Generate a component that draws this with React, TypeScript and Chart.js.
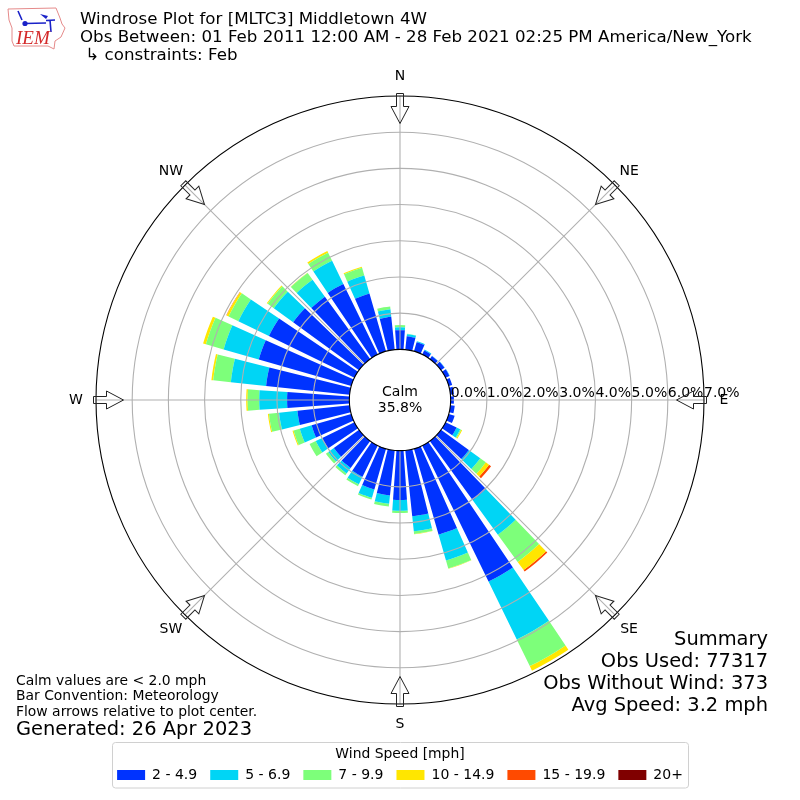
import React, { useEffect, useRef } from "react";
import { Chart, registerables, PolarAreaController } from "chart.js";

const FONT = "'DejaVu Sans'";
const directions = [0,10,20,30,40,50,60,70,80,90,100,110,120,130,140,150,160,170,180,190,200,210,220,230,240,250,260,270,280,290,300,310,320,330,340,350];

// Percent of observations per speed bin, per direction (clockwise from N)
const speed2to5 = [0.53,0.37,0.26,0.12,0.10,0.12,0.12,0.10,0.10,0.09,0.12,0.17,0.34,0.95,2.02,4.18,2.47,1.83,1.36,1.25,1.17,0.96,0.92,0.86,0.99,1.14,1.45,1.72,2.32,2.66,2.63,2.25,2.13,2.17,1.66,0.91];
const speed5to7 = [0.08,0.06,0.03,0.03,0.01,0.01,0.01,0,0,0,0,0,0.11,0.39,1.18,1.78,0.74,0.42,0.30,0.23,0.24,0.23,0.19,0.19,0.20,0.34,0.51,0.77,0.98,1.01,0.94,0.66,0.58,0.71,0.52,0.21];
const speed7to10 = [0.06,0.01,0,0,0,0,0,0,0,0,0,0,0.03,0.19,0.93,0.82,0.23,0.07,0.06,0.08,0.05,0.06,0.06,0.08,0.19,0.18,0.28,0.32,0.49,0.51,0.30,0.21,0.23,0.25,0.22,0.08];
const speed10to15 = [0,0,0,0,0,0,0,0,0,0,0,0,0.03,0.11,0.28,0.14,0.01,0.01,0,0,0,0,0,0,0,0.03,0.03,0.04,0.05,0.08,0.06,0.03,0.01,0.05,0.03,0];
const speed15to20 = [0,0,0,0,0,0,0,0,0,0,0,0,0,0.07,0.05,0,0,0,0,0,0,0,0,0,0,0,0,0,0,0,0.01,0,0,0,0,0];
const speed20plus = [0,0,0,0,0,0,0,0,0,0,0,0,0,0,0,0,0,0,0,0,0,0,0,0,0,0,0,0,0,0,0,0,0,0,0,0];

const binLabels = ["2 - 4.9", "5 - 6.9", "7 - 9.9", "10 - 14.9", "15 - 19.9", "20+"];
const binColors = ["#0033ff", "#00d5f5", "#7dff7a", "#ffe600", "#ff4a00", "#800000"];
const bins = [speed2to5, speed5to7, speed7to10, speed10to15, speed15to20, speed20plus];

const compass = ["N", "NE", "E", "SE", "S", "SW", "W", "NW"];
const rangeTicks = [0, 1, 2, 3, 4, 5, 6, 7];

const titleLines = [
  "Windrose Plot for [MLTC3] Middletown 4W",
  "Obs Between: 01 Feb 2011 12:00 AM - 28 Feb 2021 02:25 PM America/New_York",
  " \u21b3 constraints: Feb",
];
const noteLines = ["Calm values are < 2.0 mph", "Bar Convention: Meteorology", "Flow arrows relative to plot center."];
const generated = "Generated: 26 Apr 2023";
const summaryLines = ["Summary", "Obs Used: 77317", "Obs Without Wind: 373", "Avg Speed: 3.2 mph"];
const calmLines = ["Calm", "35.8%"];

const BAR_DEG = 8;
const GAP_DEG = 2;

// Polar-area bars stacked on one another, starting from the value 0 ring.
class WindBarController extends (PolarAreaController as any) {
  static id = "windbar";
  static defaults = (PolarAreaController as any).defaults;
  static overrides = (PolarAreaController as any).overrides;
  updateElement(element: any, index: number, properties: any, mode: any) {
    const self = this as any;
    if (properties) {
      const scale = self._cachedMeta.rScale;
      let base = 0;
      for (let d = 0; d < self.index; d++) base += self.chart.data.datasets[d].data[index] || 0;
      const value = self.chart.data.datasets[self.index].data[index] || 0;
      properties.innerRadius = scale.getDistanceFromCenterForValue(base);
      properties.outerRadius = scale.getDistanceFromCenterForValue(base + value);
    }
    super.updateElement(element, index, properties, mode);
  }
}

Chart.register(...registerables, WindBarController as any);

// each direction contributes one bar slot and one empty gap slot
function withGaps(values: number[]) {
  return values.flatMap((v) => [v, 0]);
}

function drawLogo(ctx: CanvasRenderingContext2D) {
  ctx.save();
  ctx.strokeStyle = "#e58a8a";
  ctx.lineWidth = 1;
  ctx.beginPath();
  const outline = [[8,9],[56,8],[60,18],[62,24],[65,28],[61,37],[55,41],[54,49],[48,46],[14,46],[12,41],[12,28],[9,20]];
  outline.forEach(([x, y], i) => (i ? ctx.lineTo(x, y) : ctx.moveTo(x, y)));
  ctx.closePath();
  ctx.stroke();
  ctx.strokeStyle = "#1a22c8";
  ctx.fillStyle = "#1a22c8";
  ctx.lineWidth = 1.6;
  ctx.beginPath(); ctx.moveTo(25, 23.5); ctx.lineTo(46, 23); ctx.moveTo(46, 20.5); ctx.lineTo(55, 20); ctx.moveTo(50, 20); ctx.lineTo(51, 32); ctx.moveTo(18, 11); ctx.lineTo(22, 20); ctx.stroke();
  ctx.beginPath(); ctx.moveTo(40, 14); ctx.lineTo(48, 16); ctx.lineTo(46, 19); ctx.closePath(); ctx.fill();
  ctx.beginPath(); ctx.arc(25, 23.5, 2.6, 0, Math.PI * 2); ctx.fill();
  ctx.fillStyle = "#d42a2a";
  ctx.font = "italic 19px 'Liberation Serif'";
  ctx.textAlign = "left";
  ctx.textBaseline = "alphabetic";
  ctx.fillText("IEM", 16, 44);
  ctx.restore();
}

function drawArrow(ctx: CanvasRenderingContext2D, cx: number, cy: number, deg: number, outer: number) {
  ctx.save();
  ctx.translate(cx, cy);
  ctx.rotate((deg * Math.PI) / 180);
  ctx.beginPath();
  const top = -outer - 2.5;
  const pts = [[-3.5, top],[3.5, top],[3.5, top + 13],[9, top + 13],[0, top + 30],[-9, top + 13],[-3.5, top + 13]];
  pts.forEach(([x, y], i) => (i ? ctx.lineTo(x, y) : ctx.moveTo(x, y)));
  ctx.closePath();
  ctx.strokeStyle = "#222";
  ctx.lineWidth = 1;
  ctx.stroke();
  ctx.restore();
}

const decorations = {
  id: "decorations",
  afterDatasetsDraw(chart: any) {
    const { ctx } = chart;
    const s = chart.scales.r;
    const zero = s.getDistanceFromCenterForValue(0);
    ctx.save();
    ctx.strokeStyle = "#b0b0b0";
    ctx.lineWidth = 1.1;
    compass.forEach((_, i) => {
      const a = (i * Math.PI) / 4;
      ctx.beginPath();
      ctx.moveTo(s.xCenter + zero * Math.sin(a), s.yCenter - zero * Math.cos(a));
      ctx.lineTo(s.xCenter + s.drawingArea * Math.sin(a), s.yCenter - s.drawingArea * Math.cos(a));
      ctx.stroke();
    });
    ctx.restore();
  },
  afterDraw(chart: any) {
    const { ctx } = chart;
    const s = chart.scales.r;
    ctx.save();
    ctx.fillStyle = "#000";
    ctx.textBaseline = "middle";

    // radial tick labels
    ctx.font = `14px ${FONT}`;
    ctx.textAlign = "left";
    rangeTicks.forEach((t) => {
      ctx.fillText(`${t.toFixed(1)}%`, s.xCenter + s.getDistanceFromCenterForValue(t), s.yCenter - 7);
    });

    // calm text
    ctx.textAlign = "center";
    calmLines.forEach((t, i) => ctx.fillText(t, s.xCenter, s.yCenter - 8 + i * 16));

    // compass
    compass.forEach((label, i) => {
      const a = (i * Math.PI) / 4;
      ctx.fillText(label, s.xCenter + (s.drawingArea + 20) * Math.sin(a), s.yCenter - (s.drawingArea + 20) * Math.cos(a));
      drawArrow(ctx, s.xCenter, s.yCenter, i * 45, s.drawingArea);
    });

    // title
    ctx.textAlign = "left";
    ctx.font = `16.66px ${FONT}`;
    titleLines.forEach((t, i) => ctx.fillText(t, 80, 20 + i * 17.7));

    // notes
    ctx.font = `13.9px ${FONT}`;
    noteLines.forEach((t, i) => ctx.fillText(t, 16, 681 + i * 15.7));
    ctx.font = `19.45px ${FONT}`;
    ctx.fillText(generated, 16, 730);

    // summary
    ctx.textAlign = "right";
    summaryLines.forEach((t, i) => ctx.fillText(t, 768, 640 + i * 22));

    // legend frame
    ctx.strokeStyle = "#d0d0d0";
    ctx.lineWidth = 1;
    ctx.beginPath();
    ctx.roundRect(112.5, 742.5, 576, 45.5, 3);
    ctx.stroke();

    drawLogo(ctx);
    ctx.restore();
  },
};

export default function App() {
  const ref = useRef<HTMLCanvasElement>(null);
  useEffect(() => {
    if (!ref.current) return;
    const slots = directions.flatMap((d) => [`${d}`, `${d}+`]);
    const angles = directions.flatMap(() => [BAR_DEG, GAP_DEG]);
    const chart = new Chart(ref.current, {
      type: "windbar" as any,
      data: {
        labels: slots,
        datasets: binLabels.map((label, level) => ({
          label,
          data: withGaps(bins[level]),
          backgroundColor: binColors[level],
          borderWidth: 0,
          angle: angles,
        })),
      },
      options: {
        animation: false,
        responsive: false,
        devicePixelRatio: 1,
        layout: { padding: { top: 96, left: 96, right: 96, bottom: 8 } },
        scales: {
          r: {
            type: "radialLinear",
            min: -1.4,
            max: 7,
            startAngle: -BAR_DEG / 2,
            ticks: { display: false, stepSize: 1 },
            angleLines: { display: false },
            pointLabels: { display: false },
            grid: {
              z: 1,
              lineWidth: 1.1,
              color: (c: any) => {
                const v = c.tick?.value;
                if (v < 0) return "rgba(0,0,0,0)";
                return v === 0 || v === 7 ? "#000" : "#b0b0b0";
              },
            },
          },
        },
        plugins: {
          tooltip: { enabled: false },
          legend: {
            position: "bottom",
            onClick: () => {},
            title: {
              display: true,
              text: "Wind Speed [mph]",
              color: "#000",
              font: { family: FONT, size: 13.9 },
              padding: { top: 43, bottom: -9.5 },
            },
            labels: {
              color: "#000",
              font: { family: FONT, size: 14 },
              boxWidth: 28,
              boxHeight: 10,
              padding: 13,
              generateLabels: (c: any) =>
                c.data.datasets.map((d: any, i: number) => ({
                  text: d.label,
                  fillStyle: d.backgroundColor,
                  strokeStyle: d.backgroundColor,
                  lineWidth: 0,
                  hidden: false,
                  datasetIndex: i,
                })),
            },
          },
        },
      } as any,
      plugins: [decorations],
    });
    return () => chart.destroy();
  }, []);
  return (
    <canvas
      ref={ref}
      width={800}
      height={800}
      style={{ position: "absolute", left: 0, top: 0, display: "block", width: 800, height: 800 }}
    />
  );
}
